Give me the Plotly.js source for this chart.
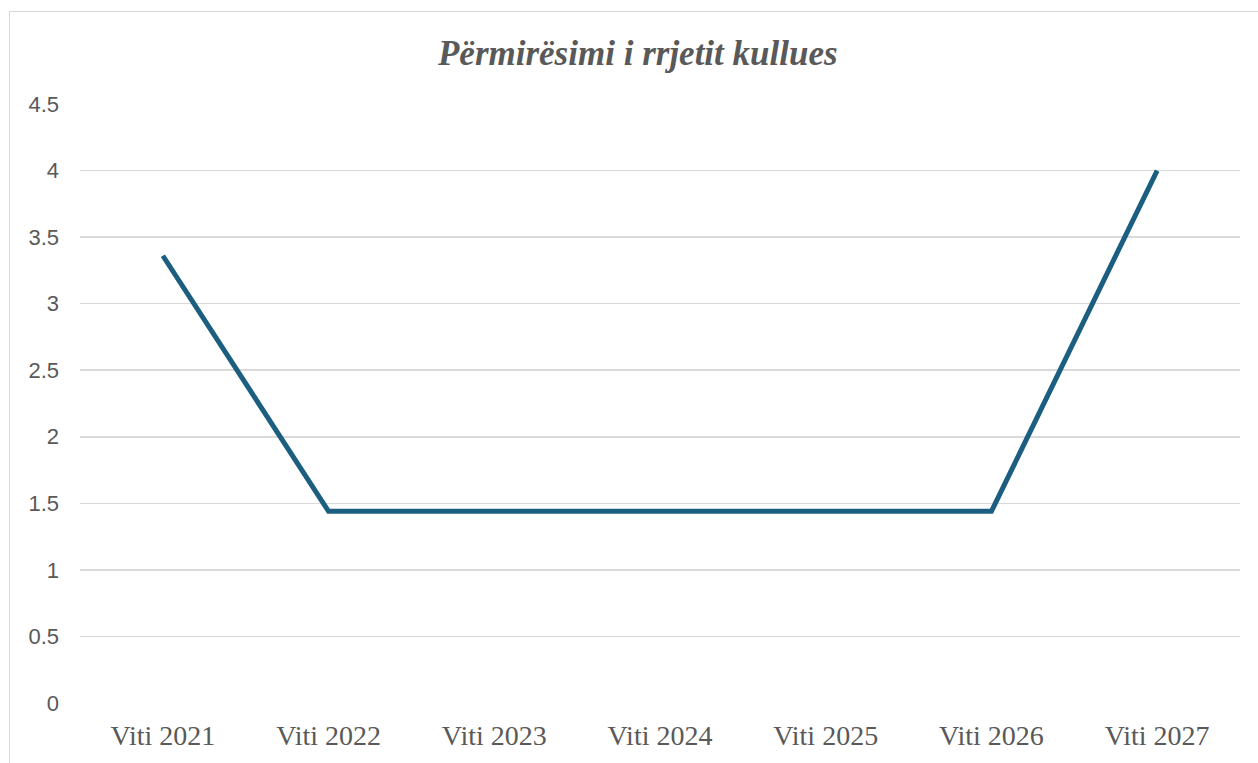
<!DOCTYPE html>
<html>
<head>
<meta charset="utf-8">
<script src="https://cdn.plot.ly/plotly-3.0.1.min.js"></script>
<style>
html,body{margin:0;padding:0;background:#fff;}
#frame{position:absolute;left:9px;top:11px;width:1300px;height:800px;border:1px solid #d9d9d9;box-sizing:border-box;}
#chart{position:absolute;left:0;top:0;width:1258px;height:763px;}
</style>
</head>
<body>
<div id="frame"></div>
<div id="chart"></div>
<script>
const categories = ["Viti 2021","Viti 2022","Viti 2023","Viti 2024","Viti 2025","Viti 2026","Viti 2027"];
const values = [3.36, 1.44, 1.44, 1.44, 1.44, 1.44, 4];
const yTicks = [0, 0.5, 1, 1.5, 2, 2.5, 3, 3.5, 4, 4.5];
const yTickText = ["0","0.5","1","1.5","2","2.5","3","3.5","4","4.5"];
const chartTitle = "Përmirësimi i rrjetit kullues";

Plotly.newPlot("chart", [{
  type: "scatter",
  mode: "lines",
  x: categories,
  y: values,
  line: {color: "#1b5e80", width: 5},
  hoverinfo: "x+y"
}], {
  width: 1258, height: 763,
  margin: {l: 80, r: 18, t: 104, b: 60},
  paper_bgcolor: "rgba(0,0,0,0)",
  plot_bgcolor: "rgba(0,0,0,0)",
  showlegend: false,
  title: {
    text: "<b><i>" + chartTitle + "</i></b>",
    font: {family: "Liberation Serif, Times New Roman, serif", size: 35, color: "#595959"},
    x: 0.507, xanchor: "center",
    y: 1 - 53/763, yanchor: "middle"
  },
  xaxis: {
    type: "category",
    range: [-0.5, 6.5],
    showgrid: false,
    showline: false,
    zeroline: false,
    ticks: "",
    tickfont: {family: "Liberation Serif, Times New Roman, serif", size: 28, color: "#595959"},
    ticklabelstandoff: 13
  },
  yaxis: {
    range: [0, 4.5],
    tickvals: yTicks,
    ticktext: yTickText,
    showgrid: true,
    gridcolor: "#d9d9d9",
    gridwidth: 1.5,
    zeroline: false,
    showline: false,
    ticks: "",
    tickfont: {family: "Liberation Sans, Arial, sans-serif", size: 22, color: "#595959"},
    ticklabelstandoff: 20
  }
}, {displayModeBar: false, staticPlot: true});
</script>
</body>
</html>
